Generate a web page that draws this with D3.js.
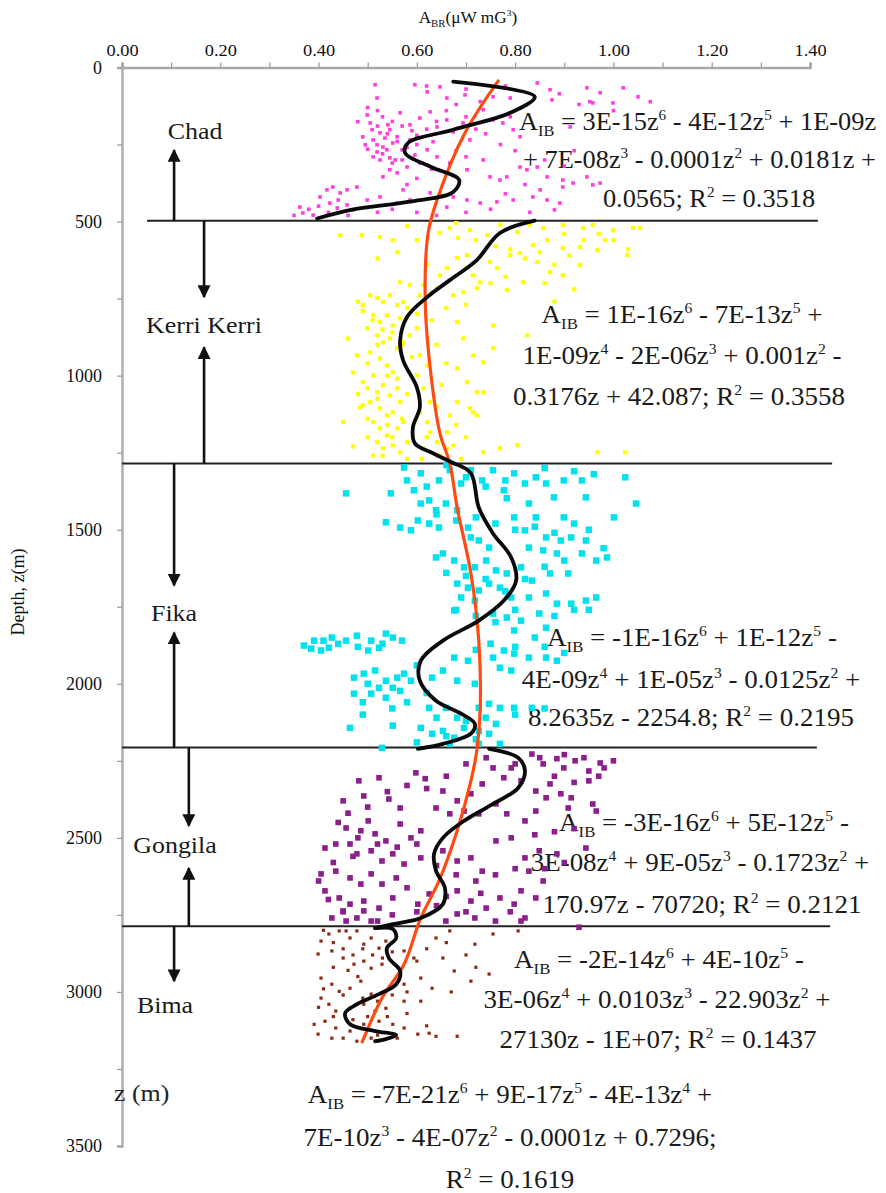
<!DOCTYPE html>
<html><head><meta charset="utf-8">
<script src="https://cdn.jsdelivr.net/npm/d3@7/dist/d3.min.js"></script>
<style>
html,body{margin:0;padding:0;background:#fff;}
svg{display:block;}
svg text{white-space:pre;font-family:"Liberation Serif","Times New Roman","DejaVu Serif",serif;}
</style></head><body>
<svg id="chart" width="886" height="1193" font-family="Liberation Serif, Times New Roman, serif"></svg>
<script>
// ---------------- DATA ----------------
const xTicks = [0, 0.2, 0.4, 0.6, 0.8, 1.0, 1.2, 1.4];
const xMinorTicks = [0, 0.1, 0.2, 0.3, 0.4, 0.5, 0.6, 0.7, 0.8, 0.9, 1.0, 1.1, 1.2, 1.3, 1.4];
const yTicks = [0, 500, 1000, 1500, 2000, 2500, 3000, 3500];
const yMinorTicks = [0, 250, 500, 750, 1000, 1250, 1500, 1750, 2000, 2250, 2500, 2750, 3000, 3250, 3500];
const formations = ["Chad", "Kerri Kerri", "Fika", "Gongila", "Bima"];
const boundaries = [497, 1285, 2207, 2787];

// scatter: [A_BR, depth z]
const chadPts = [[0.515,56],[0.519,99],[0.596,56],[0.621,79],[0.647,63],[0.661,99],[0.698,89],[0.729,111],[0.755,95],[0.790,99],[0.845,50],[0.871,72],[0.875,105],[0.946,66],[0.973,82],[1.020,66],[0.999,115],[1.075,111],[0.480,176],[0.499,154],[0.505,180],[0.525,212],[0.511,235],[0.519,274],[0.531,258],[0.545,293],[0.560,225],[0.566,147],[0.586,186],[0.606,164],[0.627,144],[0.641,193],[0.661,170],[0.674,209],[0.694,180],[0.708,235],[0.735,137],[0.755,170],[0.775,180],[0.790,160],[0.796,202],[0.810,225],[0.633,241],[0.621,267],[0.606,310],[0.545,332],[0.531,355],[0.560,342],[0.580,323],[0.641,290],[0.667,310],[0.702,332],[0.735,300],[0.749,355],[0.769,365],[0.783,355],[0.810,323],[0.824,332],[0.845,323],[0.865,355],[0.897,365],[0.918,375],[0.946,355],[0.958,381],[0.973,375],[0.952,111],[0.912,193],[0.958,115],[0.403,420],[0.417,397],[0.429,388],[0.444,407],[0.458,397],[0.478,388],[0.423,440],[0.438,456],[0.458,446],[0.470,462],[0.362,453],[0.368,472],[0.389,479],[0.499,430],[0.525,420],[0.560,440],[0.586,430],[0.572,397],[0.627,407],[0.661,453],[0.674,420],[0.702,430],[0.729,440],[0.763,436],[0.796,430],[0.836,420],[0.865,430],[0.891,440],[0.851,397],[0.897,388],[0.511,290],[0.525,300],[0.539,267],[0.551,245],[0.519,251],[0.545,202],[0.535,229],[0.556,300],[0.509,202],[0.570,267],[0.495,251],[0.541,186],[0.586,235],[0.596,284],
[0.50,130],[0.52,140],[0.53,160],[0.55,175],[0.57,190],[0.59,205],[0.60,220],[0.54,215],[0.52,190],[0.56,240],[0.58,260],[0.60,250],[0.53,280],[0.55,310],[0.57,300],[0.50,265],[0.49,225],[0.62,200],[0.64,175],[0.66,140],[0.68,120],[0.70,160],[0.72,200],[0.74,215],[0.77,250],[0.80,270],[0.68,270],[0.70,290],[0.63,330],[0.60,360],[0.58,380],[0.44,430],[0.40,450],[0.38,460],[0.35,480],[0.42,470],[0.46,480],[0.52,470],[0.55,460],[0.60,470],[0.64,480],[0.70,470],[0.75,460],[0.83,470],[0.88,462],[0.78,410],[0.82,380],[0.90,320],[0.86,300],[0.92,270],[0.62,60],[0.70,70],[0.78,60],[0.89,85],[0.93,120],[1.00,140],[1.05,95]];

const kerriPts = [[0.444,544],[0.488,544],[0.525,550],[0.551,560],[0.647,537],[0.667,521],[0.684,553],[0.708,528],[0.743,544],[0.804,534],[0.830,511],[0.857,521],[0.897,511],[0.938,521],[0.958,511],[0.999,528],[1.040,521],[0.836,576],[0.865,560],[0.897,586],[0.932,583],[0.967,593],[0.790,609],[0.810,602],[0.749,631],[0.763,651],[0.714,674],[0.729,697],[0.682,618],[0.702,609],[0.661,651],[0.647,674],[0.845,631],[0.871,664],[0.897,674],[0.932,641],[0.816,697],[0.783,722],[0.722,716],[0.694,729],[0.674,739],[0.641,716],[0.613,706],[0.586,706],[0.566,697],[0.606,739],[0.490,771],[0.505,739],[0.519,748],[0.531,761],[0.545,739],[0.560,771],[0.572,761],[0.511,804],[0.525,826],[0.539,804],[0.551,837],[0.566,814],[0.499,846],[0.519,869],[0.531,892],[0.545,879],[0.560,911],[0.572,892],[0.586,869],[0.600,846],[0.478,934],[0.505,924],[0.525,944],[0.539,967],[0.551,989],[0.511,999],[0.490,1021],[0.499,1041],[0.519,1054],[0.531,1031],[0.545,1064],[0.560,1041],[0.505,1086],[0.525,1106],[0.539,1129],[0.551,1119],[0.566,1086],[0.490,1096],[0.511,1151],[0.525,1171],[0.539,1194],[0.560,1171],[0.572,1151],[0.519,1216],[0.531,1236],[0.551,1226],[0.566,1249],[0.580,1216],[0.511,1259],[0.484,1103],[0.606,934],[0.621,967],[0.600,999],[0.613,1041],[0.627,1086],[0.606,1119],[0.621,1151],[0.627,1184],[0.613,1236],[0.641,1216],[0.647,1259],[0.661,1236],[0.682,826],[0.694,879],[0.714,934],[0.735,957],[0.682,976],[0.702,1021],[0.722,1054],[0.682,1086],[0.708,1106],[0.714,1119],[0.722,1129],[0.735,1054],[0.755,911],[0.755,837],[0.824,869],[0.667,1129],[0.661,1184],[0.674,1226],[0.735,1249],[0.804,1226],[0.967,1249],[0.769,1236],[1.024,1249],[0.983,560],[1.054,521],[1.028,609],
[0.49,790],[0.51,820],[0.53,850],[0.55,860],[0.57,900],[0.59,940],[0.52,900],[0.50,960],[0.54,1000],[0.56,1010],[0.58,1060],[0.52,1075],[0.50,1140],[0.54,1160],[0.57,1140],[0.55,1200],[0.53,1260],[0.58,1270],[0.61,1270],[0.50,1200],[0.48,1060],[0.47,990],[0.46,880],[0.48,760],[0.58,780],[0.60,800],[0.63,820],[0.64,900],[0.66,960],[0.65,1030],[0.64,1100],[0.68,1160],[0.70,1200],[0.69,1270],[0.62,1200],[0.47,1230],[0.45,1150],[0.72,560],[0.76,580],[0.79,590],[0.82,620],[0.85,600],[0.88,640],[0.91,610],[0.94,560],[0.97,540],[1.00,560],[1.03,590],[0.60,560],[0.56,600],[0.52,620],[0.62,640],[0.70,650],[0.75,700],[0.78,680],[0.86,700],[0.92,720],[0.88,760],[0.70,770],[0.66,780],[0.90,540],[0.77,510],[0.68,505],[0.58,515]];

const fikaPts = [[0.456,1382],[0.547,1382],[0.574,1298],[0.594,1372],[0.608,1317],[0.625,1405],[0.645,1340],[0.667,1307],[0.690,1350],[0.710,1307],[0.733,1340],[0.755,1307],[0.777,1372],[0.798,1317],[0.820,1350],[0.842,1330],[0.863,1350],[0.899,1340],[0.936,1340],[1.024,1330],[1.046,1415],[0.944,1395],[0.879,1395],[0.828,1415],[0.783,1398],[0.608,1415],[0.639,1437],[0.659,1415],[0.682,1437],[0.602,1470],[0.537,1476],[0.566,1493],[0.588,1502],[0.625,1480],[0.645,1493],[0.704,1493],[0.798,1460],[0.842,1460],[0.899,1460],[1.001,1460],[0.820,1502],[0.863,1525],[0.893,1535],[0.914,1525],[0.944,1535],[0.828,1558],[0.857,1567],[0.885,1577],[0.936,1577],[0.965,1600],[0.987,1590],[0.908,1642],[0.871,1642],[0.834,1665],[0.812,1622],[0.747,1558],[0.726,1535],[0.710,1525],[0.653,1577],[0.639,1590],[0.676,1600],[0.696,1622],[0.718,1622],[0.741,1600],[0.761,1632],[0.783,1642],[0.682,1675],[0.704,1688],[0.726,1697],[0.747,1675],[0.769,1688],[0.690,1720],[0.718,1730],[0.792,1720],[0.828,1720],[0.863,1707],[0.885,1740],[0.914,1740],[0.944,1730],[0.965,1720],[0.676,1762],[0.755,1772],[0.783,1785],[0.812,1795],[0.849,1772],[0.798,1827],[0.863,1818],[0.370,1876],[0.391,1860],[0.405,1892],[0.427,1850],[0.456,1860],[0.478,1844],[0.507,1860],[0.537,1837],[0.551,1850],[0.501,1892],[0.523,1883],[0.421,1883],[0.385,1886],[0.472,1980],[0.492,1967],[0.515,1957],[0.537,1990],[0.551,2013],[0.523,2013],[0.507,2032],[0.537,2045],[0.566,2023],[0.472,2032],[0.574,1967],[0.588,1990],[0.631,1980],[0.653,1957],[0.676,1915],[0.704,1925],[0.755,1915],[0.777,1892],[0.798,1902],[0.828,1915],[0.863,1915],[0.769,1948],[0.792,1957],[0.885,1925],[0.682,1990],[0.718,2000],[0.625,2078],[0.659,2078],[0.682,2110],[0.726,2078],[0.747,2065],[0.769,2078],[0.798,2078],[0.834,2078],[0.608,2143],[0.631,2162],[0.653,2153],[0.676,2175],[0.696,2143],[0.726,2153],[0.747,2162],[0.761,2130],[0.464,2143],[0.551,2136],[0.529,2208],[0.769,2195],[0.726,2195],[0.667,2195],
[0.66,1290],[0.70,1330],[0.74,1360],[0.78,1340],[0.86,1300],[0.92,1310],[0.96,1320],[0.62,1360],[0.58,1340],[0.64,1450],[0.68,1470],[0.72,1460],[0.76,1480],[0.80,1500],[0.84,1490],[0.88,1510],[0.92,1480],[0.95,1500],[0.98,1560],[0.90,1600],[0.86,1620],[0.82,1660],[0.78,1700],[0.74,1660],[0.70,1650],[0.66,1640],[0.68,1760],[0.72,1780],[0.76,1800],[0.80,1760],[0.88,1780],[0.92,1760],[0.95,1760],[0.84,1850],[0.80,1880],[0.86,1880],[0.90,1900],[0.75,1870],[0.72,1890],[0.44,1870],[0.48,1880],[0.53,1870],[0.57,1860],[0.41,1860],[0.60,1940],[0.62,2030],[0.58,2060],[0.50,2000],[0.49,2060],[0.55,2080],[0.64,2110],[0.70,2120],[0.74,2110],[0.80,2100],[0.86,2080],[0.60,2190],[0.66,2170],[0.72,2180],[0.49,2100],[0.56,1980]];

const gongilaPts = [[0.834,2228],[0.857,2260],[0.885,2243],[0.899,2273],[0.922,2250],[0.950,2283],[0.973,2257],[0.981,2273],[0.741,2240],[0.755,2273],[0.777,2305],[0.792,2273],[0.598,2289],[0.617,2308],[0.523,2305],[0.482,2315],[0.812,2315],[0.842,2348],[0.871,2325],[0.893,2357],[0.914,2370],[0.863,2370],[0.908,2403],[0.950,2315],[0.958,2390],[0.965,2413],[0.733,2325],[0.710,2357],[0.682,2380],[0.653,2348],[0.639,2403],[0.667,2422],[0.696,2413],[0.726,2422],[0.761,2390],[0.783,2422],[0.820,2445],[0.842,2413],[0.450,2380],[0.492,2364],[0.543,2374],[0.566,2403],[0.501,2445],[0.486,2477],[0.456,2468],[0.515,2487],[0.537,2510],[0.566,2455],[0.588,2500],[0.608,2477],[0.413,2533],[0.435,2520],[0.464,2520],[0.478,2552],[0.507,2542],[0.529,2575],[0.551,2552],[0.574,2585],[0.608,2565],[0.653,2542],[0.682,2575],[0.710,2565],[0.733,2608],[0.761,2510],[0.792,2500],[0.820,2565],[0.849,2542],[0.885,2552],[0.944,2533],[0.828,2608],[0.857,2640],[0.812,2672],[0.842,2695],[0.798,2715],[0.820,2760],[0.930,2790],[0.405,2617],[0.435,2608],[0.464,2630],[0.486,2650],[0.507,2617],[0.529,2650],[0.558,2630],[0.580,2662],[0.413,2672],[0.442,2695],[0.464,2715],[0.492,2705],[0.523,2728],[0.551,2695],[0.602,2715],[0.625,2682],[0.682,2672],[0.710,2705],[0.741,2728],[0.769,2695],[0.427,2760],[0.456,2770],[0.478,2760],[0.507,2770],[0.450,2737],[0.492,2737],[0.682,2747],[0.718,2760],[0.659,2770],[0.812,2770],
[0.85,2240],[0.90,2230],[0.94,2240],[1.00,2250],[0.97,2300],[0.92,2320],[0.88,2300],[0.80,2260],[0.70,2260],[0.66,2300],[0.62,2340],[0.58,2330],[0.54,2350],[0.50,2400],[0.46,2420],[0.44,2450],[0.48,2500],[0.52,2520],[0.56,2530],[0.60,2520],[0.64,2590],[0.68,2620],[0.72,2640],[0.76,2620],[0.80,2600],[0.86,2600],[0.90,2580],[0.92,2470],[0.88,2480],[0.84,2490],[0.43,2580],[0.42,2700],[0.45,2740],[0.52,2770],[0.55,2750],[0.60,2740],[0.64,2720],[0.70,2740],[0.76,2770],[0.79,2740],[0.73,2680],[0.66,2690],[0.47,2560],[0.40,2640]];

const bimaPts = [[0.405,2835],[0.421,2812],[0.442,2802],[0.464,2825],[0.478,2802],[0.492,2845],[0.507,2825],[0.523,2858],[0.537,2835],[0.399,2877],[0.427,2867],[0.450,2890],[0.472,2910],[0.492,2900],[0.507,2923],[0.529,2910],[0.574,2867],[0.594,2890],[0.639,2825],[0.667,2802],[0.718,2845],[0.755,2812],[0.806,2802],[0.653,2890],[0.676,2932],[0.710,2965],[0.747,2942],[0.405,2955],[0.427,2975],[0.442,2998],[0.464,2988],[0.486,2965],[0.507,3007],[0.537,2998],[0.574,2975],[0.608,2955],[0.631,2988],[0.405,3020],[0.421,3040],[0.435,3062],[0.464,3053],[0.492,3040],[0.515,3062],[0.537,3053],[0.574,3030],[0.608,3030],[0.391,3105],[0.413,3095],[0.435,3117],[0.464,3127],[0.492,3105],[0.523,3095],[0.551,3105],[0.574,3117],[0.602,3137],[0.625,3134],[0.639,3144],[0.682,3144],[0.399,3137],[0.427,3150],[0.478,3160],[0.507,3150],[0.456,2802],
[0.41,2800],[0.43,2840],[0.45,2860],[0.47,2880],[0.49,2860],[0.51,2880],[0.53,2890],[0.55,2870],[0.46,2930],[0.48,2950],[0.43,2920],[0.41,2990],[0.45,3010],[0.49,3020],[0.52,3030],[0.55,3010],[0.58,3000],[0.43,3080],[0.47,3090],[0.50,3080],[0.54,3080],[0.58,3070],[0.60,2900],[0.62,2860],[0.66,2840],[0.70,2880],[0.72,2920],[0.45,3150],[0.52,3140],[0.56,3150],[0.62,3110],[0.67,3000],[0.40,3050]];

// 6th-order polynomial trend lines
const chadFit = [[0.674,46],[0.840,95],[0.790,147],[0.674,202],[0.582,245],[0.576,277],[0.629,323],[0.686,365],[0.674,404],[0.582,436],[0.466,462],[0.397,490]];
const kerriFit = [[0.840,497],[0.769,537],[0.722,625],[0.667,690],[0.621,745],[0.580,810],[0.566,885],[0.572,950],[0.600,1038],[0.606,1103],[0.592,1168],[0.596,1220],[0.633,1252],[0.676,1285]];
const fikaFit = [[0.676,1285],[0.710,1317],[0.726,1428],[0.755,1512],[0.792,1590],[0.802,1665],[0.777,1730],[0.726,1795],[0.653,1860],[0.608,1925],[0.606,1990],[0.639,2055],[0.690,2097],[0.718,2130],[0.710,2162],[0.653,2195],[0.602,2211]];
const gongilaFit = [[0.747,2211],[0.806,2240],[0.820,2282],[0.806,2338],[0.755,2390],[0.696,2445],[0.653,2500],[0.635,2552],[0.639,2607],[0.657,2662],[0.653,2715],[0.608,2760],[0.551,2780],[0.515,2793]];
const bimaFit = [[0.515,2793],[0.551,2796],[0.558,2825],[0.539,2858],[0.543,2890],[0.566,2932],[0.558,2975],[0.523,3007],[0.478,3040],[0.454,3069],[0.464,3105],[0.515,3127],[0.558,3140],[0.537,3153],[0.515,3160]];
const overallFit = [[0.767,40],[0.698,212],[0.641,430],[0.623,537],[0.617,755],[0.627,973],[0.647,1187],[0.667,1285],[0.682,1428],[0.710,1642],[0.726,1860],[0.729,2078],[0.722,2217],[0.710,2315],[0.682,2477],[0.645,2640],[0.608,2760],[0.574,2910],[0.529,3020],[0.492,3150],[0.488,3166]];

// equations
const chadEq = ["A_{IB} = 3E-15z^{6} - 4E-12z^{5} + 1E-09z", "+ 7E-08z^{3} - 0.0001z^{2} + 0.0181z +", "0.0565; R^{2} = 0.3518"];
const kerriEq = ["A_{IB} = 1E-16z^{6} - 7E-13z^{5} +", "1E-09z^{4} - 2E-06z^{3} + 0.001z^{2} -", "0.3176z + 42.087; R^{2} = 0.3558"];
const fikaEq = ["A_{IB} = -1E-16z^{6} + 1E-12z^{5} -", "4E-09z^{4} + 1E-05z^{3} - 0.0125z^{2} +", "8.2635z - 2254.8; R^{2} = 0.2195"];
const gongilaEq = ["A_{IB} = -3E-16z^{6} + 5E-12z^{5} -", "3E-08z^{4} + 9E-05z^{3} - 0.1723z^{2} +", "170.97z - 70720; R^{2} = 0.2121"];
const bimaEq = ["A_{IB} = -2E-14z^{6} + 4E-10z^{5} -", "3E-06z^{4} + 0.0103z^{3} - 22.903z^{2} +", "27130z - 1E+07; R^{2} = 0.1437"];
const overallEq = ["A_{IB} = -7E-21z^{6} + 9E-17z^{5} - 4E-13z^{4} +", "7E-10z^{3} - 4E-07z^{2} - 0.0001z + 0.7296;", "R^{2} = 0.1619"];

const xTitle = "A_{BR}(μW mG^{3})";
const yTitle = "Depth, z(m)";
const zLabel = "z (m)";

// ---------------- LAYOUT ----------------
const FONT = "Liberation Serif, Times New Roman, serif";
const svg = d3.select("#chart");
const W = 886, H = 1193;
svg.append("rect").attr("width", W).attr("height", H).attr("fill", "#fff");
const x = d3.scaleLinear().domain([0, 1.4]).range([122, 810]);
const y = d3.scaleLinear().domain([0, 3500]).range([67.5, 1146]);
const SX = 1.08; // horizontal stretch of the original typography

function rich(parent, str, fs, anchor, px, py, fill, sx) {
  const g = parent.append("g").attr("transform", `translate(${px},${py}) scale(${sx || SX},1)`);
  const t = g.append("text").attr("font-family", FONT).attr("font-size", fs)
    .attr("text-anchor", anchor).attr("fill", fill || "#1a1a1a");
  const parts = str.split(/(_\{[^}]*\}|\^\{[^}]*\})/).filter(s => s.length);
  let shift = 0;
  parts.forEach(p => {
    let target = 0, size = fs, txt = p;
    if (p.startsWith("_{")) { target = 0.24 * fs; size = 0.62 * fs; txt = p.slice(2, -1); }
    else if (p.startsWith("^{")) { target = -0.42 * fs; size = 0.58 * fs; txt = p.slice(2, -1); }
    t.append("tspan").attr("dy", target - shift).attr("font-size", size).text(txt);
    shift = target;
  });
  return g;
}

// arrow marker
const defs = svg.append("defs");
defs.append("marker").attr("id", "ah").attr("viewBox", "0 0 10 10")
  .attr("refX", 9).attr("refY", 5).attr("markerWidth", 13).attr("markerHeight", 13)
  .attr("markerUnits", "userSpaceOnUse").attr("orient", "auto")
  .append("path").attr("d", "M0,0 L10,5 L0,10 Z").attr("fill", "#111");

// ---- axes ----
const axTop = svg.append("g").attr("transform", `translate(0,${y(0)})`)
  .call(d3.axisTop(x).tickValues(xMinorTicks).tickSize(5).tickPadding(7)
    .tickFormat(d => xTicks.some(t => Math.abs(t - d) < 1e-9) ? d3.format(".2f")(d) : ""));
axTop.attr("font-family", FONT);
axTop.select(".domain").attr("stroke", "#a8a8a8").attr("stroke-width", 2.5);
axTop.selectAll(".tick line").attr("stroke", "#999").attr("stroke-width", 1.2);
axTop.selectAll(".tick text").attr("font-size", 17).attr("fill", "#111").attr("font-family", FONT)
  .attr("transform", "scale(1.08,1)");

const axLeft = svg.append("g").attr("transform", `translate(${x(0)},0)`)
  .call(d3.axisLeft(y).tickValues(yMinorTicks).tickSize(5).tickPadding(15)
    .tickFormat(d => yTicks.includes(d) ? String(d) : ""));
axLeft.attr("font-family", FONT);
axLeft.select(".domain").attr("stroke", "#b0b0b0").attr("stroke-width", 2.5);
axLeft.selectAll(".tick line").attr("stroke", "#999").attr("stroke-width", 1.2);
axLeft.selectAll(".tick text").attr("font-size", 18).attr("fill", "#111").attr("font-family", FONT);

// titles
rich(svg, xTitle, 16, "middle", 468, 23, "#111");
svg.append("text").attr("transform", `translate(24,592) rotate(-90)`).attr("text-anchor", "middle")
  .attr("font-family", FONT).attr("font-size", 18).attr("fill", "#111").text(yTitle);
rich(svg, zLabel, 24, "start", 114, 1101, "#222");

// ---- boundary lines ----
const lineExt = [[0.051, 1.416], [0, 1.445], [0, 1.414], [0, 1.441]];
svg.append("g").selectAll("line").data(boundaries).join("line")
  .attr("x1", (d, i) => x(lineExt[i][0])).attr("x2", (d, i) => x(lineExt[i][1]))
  .attr("y1", d => y(d)).attr("y2", d => y(d))
  .attr("stroke", "#222").attr("stroke-width", 2);

// ---- formation labels & arrows ----
const arrows = [
  { a: 0.106, from: boundaries[0], to: 268 },
  { a: 0.167, from: boundaries[0], to: 745 },
  { a: 0.167, from: boundaries[1], to: 908 },
  { a: 0.106, from: boundaries[1], to: 1681 },
  { a: 0.106, from: boundaries[2], to: 1834 },
  { a: 0.136, from: boundaries[2], to: 2461 },
  { a: 0.136, from: boundaries[3], to: 2598 },
  { a: 0.106, from: boundaries[3], to: 2965 }
];
svg.append("g").selectAll("line").data(arrows).join("line")
  .attr("x1", d => x(d.a)).attr("x2", d => x(d.a))
  .attr("y1", d => y(d.from)).attr("y2", d => y(d.to))
  .attr("stroke", "#111").attr("stroke-width", 2.6).attr("marker-end", "url(#ah)");

const labelPos = [[195, 139], [204, 333], [174, 621], [175, 853], [165, 1013]];
formations.forEach((f, i) => rich(svg, f, 24, "middle", labelPos[i][0], labelPos[i][1], "#1a1a1a"));

// ---- equations ----
const FS = 25;
function eq(lines, anchors, xs, ys, sx) {
  lines.forEach((l, i) => rich(svg, l, FS, anchors[i], xs[i], ys[i] + 8, "#1a1a1a", sx));
}
eq(chadEq, ["start", "start", "middle"], [519, 523, 709], [122, 160, 199], 1.055);
eq(kerriEq, ["middle", "middle", "middle"], [682, 682, 679], [315, 356, 397]);
eq(fikaEq, ["middle", "middle", "middle"], [692, 691, 691], [638, 680, 718]);
eq(gongilaEq, ["middle", "middle", "middle"], [704, 700, 702], [823, 863, 905]);
eq(bimaEq, ["middle", "middle", "middle"], [659, 657, 658], [960, 1000, 1040]);
eq(overallEq, ["middle", "middle", "middle"], [510, 510, 510], [1095, 1138, 1180]);

// ---- scatter ----
function scatter(pts, color, s) {
  svg.append("g").selectAll("rect").data(pts).join("rect")
    .attr("x", d => x(d[0]) - s / 2).attr("y", d => y(d[1]) - s / 2)
    .attr("width", s).attr("height", s).attr("fill", color);
}
scatter(chadPts, "#ff3ee0", 3.6);
scatter(kerriPts, "#ffff00", 4.2);
scatter(fikaPts, "#00e2ee", 6.5);
scatter(gongilaPts, "#8b1f8b", 5.6);
scatter(bimaPts, "#8b2a10", 3.2);

// ---- trend curves ----
const line = d3.line().x(d => x(d[0])).y(d => y(d[1])).curve(d3.curveCatmullRom.alpha(0.5));
svg.append("path").datum(overallFit).attr("d", line).attr("fill", "none")
  .attr("stroke", "#ff4a12").attr("stroke-width", 3.2);
[chadFit, kerriFit, fikaFit, gongilaFit, bimaFit].forEach(f => {
  svg.append("path").datum(f).attr("d", line).attr("fill", "none")
    .attr("stroke", "#0a0a0a").attr("stroke-width", 3.8).attr("stroke-linecap", "round");
});
</script>
</body></html>
